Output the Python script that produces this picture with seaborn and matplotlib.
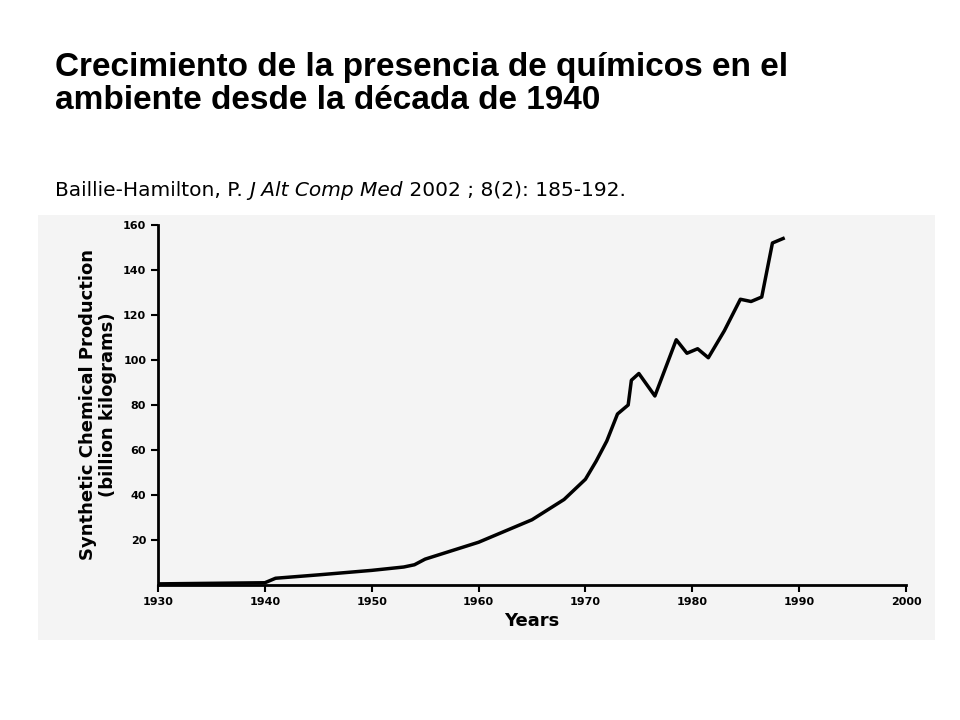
import matplotlib
matplotlib.use("Agg")
import matplotlib.pyplot as plt
import seaborn as sns
import pandas as pd

years = [1930, 1940, 1941, 1945, 1950, 1953, 1954, 1955, 1960, 1965, 1968, 1970, 1971, 1972, 1973,
         1974, 1974.3, 1975, 1976.5, 1978.5, 1979.5, 1980.5, 1981.5, 1983, 1984.5, 1985.5, 1986.5, 1987.5, 1988.5]
production = [0.5, 1, 3, 4.5, 6.5, 8, 9, 11.5, 19, 29, 38, 47, 55, 64, 76,
              80, 91, 94, 84, 109, 103, 105, 101, 113, 127, 126, 128, 152, 154]
x_ticks = [1930, 1940, 1950, 1960, 1970, 1980, 1990, 2000]
y_ticks = [20, 40, 60, 80, 100, 120, 140, 160]

df = pd.DataFrame({"Years": years, "Production": production})

fig = plt.figure(figsize=(9.6, 7.2), dpi=100)
bg = fig.add_axes([38/960, 1-640/720, (935-38)/960, (640-215)/720])
bg.set_facecolor("#f4f4f4")
bg.set_xticks([]); bg.set_yticks([])
for s in bg.spines.values():
    s.set_visible(False)
bg.set_zorder(0)

ax = fig.add_axes([158/960, 1-585/720, (906-158)/960, (585-225)/720])
ax.set_zorder(1)
ax.set_facecolor("none")
sns.lineplot(data=df, x="Years", y="Production", ax=ax, color="black", linewidth=2.5)
ax.set_xlim(1930, 2000)
ax.set_ylim(0, 160)
ax.set_xticks(x_ticks)
ax.set_yticks(y_ticks)
for lab in ax.get_xticklabels() + ax.get_yticklabels():
    lab.set_fontweight("bold"); lab.set_fontsize(8)
ax.spines["top"].set_visible(False)
ax.spines["right"].set_visible(False)
ax.spines["left"].set_linewidth(2)
ax.spines["bottom"].set_linewidth(2)
ax.tick_params(width=1.5, length=5)
ax.set_xlabel("Years", fontweight="bold", fontsize=13)
ax.set_ylabel("Synthetic Chemical Production\n(billion kilograms)", fontweight="bold", fontsize=13)

fig.text(55/960, 1-84/720, "Crecimiento de la presencia de químicos en el\nambiente desde la década de 1940",
         fontsize=24, fontweight="bold", family="Liberation Sans", va="center", linespacing=1.1)

parts = [("Baillie-Hamilton, P. ", "normal"), ("J Alt Comp Med", "italic"), (" 2002 ; 8(2): 185-192.", "normal")]
fig.canvas.draw()
r = fig.canvas.get_renderer()
x = 55/960
for txt, st in parts:
    t = fig.text(x, 1-190/720, txt, fontsize=14.5, style=st, family="DejaVu Sans", va="center")
    bb = t.get_window_extent(renderer=r)
    x += bb.width / fig.bbox.width

fig.savefig("out.png", dpi=100)
